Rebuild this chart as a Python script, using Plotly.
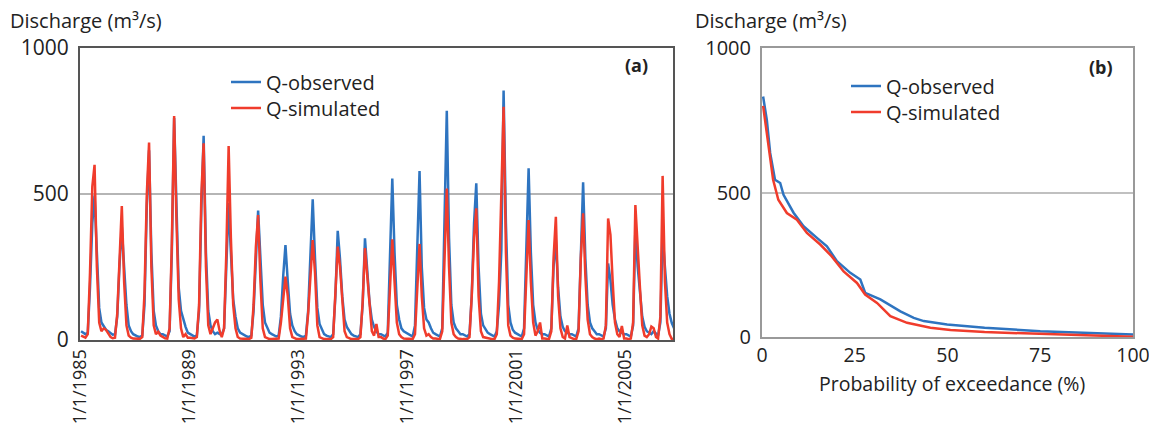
import pandas as pd
import plotly.graph_objects as go

# ---------------- data ----------------
# monthly discharge (m3/s), Jan 1985 .. Oct 2006
q_observed = [
    30, 25, 20, 25, 180, 400, 495, 300, 110, 60, 45, 35,      # 1985
    30, 22, 18, 20, 80, 260, 388, 250, 120, 50, 30, 20,       # 1986
    15, 12, 10, 15, 120, 460, 650, 300, 100, 50, 30, 20,      # 1987
    20, 15, 12, 30, 300, 760, 450, 180, 100, 70, 45, 25,      # 1988
    20, 15, 12, 15, 100, 450, 699, 300, 100, 50, 30, 20,      # 1989
    25, 20, 18, 40, 250, 469, 300, 140, 80, 40, 25, 20,       # 1990
    15, 12, 10, 15, 100, 300, 443, 280, 120, 60, 40, 25,      # 1991
    20, 15, 12, 15, 80, 220, 325, 200, 90, 50, 30, 20,        # 1992
    15, 12, 10, 15, 100, 330, 482, 280, 110, 55, 35, 20,      # 1993
    15, 12, 10, 20, 150, 374, 280, 150, 70, 45, 30, 20,       # 1994
    15, 12, 10, 20, 120, 348, 250, 130, 70, 45, 30, 20,       # 1995
    20, 15, 12, 25, 250, 553, 300, 120, 70, 40, 30, 25,       # 1996
    20, 15, 12, 50, 330, 579, 250, 110, 70, 60, 40, 25,       # 1997
    20, 15, 12, 40, 400, 785, 350, 120, 60, 40, 30, 20,       # 1998
    20, 15, 12, 20, 150, 400, 537, 250, 90, 50, 35, 25,       # 1999
    20, 15, 12, 30, 120, 308, 854, 400, 120, 60, 35, 25,      # 2000
    20, 15, 12, 40, 300, 588, 300, 120, 60, 35, 25, 20,       # 2001
    20, 15, 12, 40, 250, 342, 180, 80, 45, 30, 25, 20,        # 2002
    20, 15, 12, 40, 300, 540, 280, 120, 60, 40, 30, 20,       # 2003
    20, 15, 12, 40, 262, 205, 120, 70, 40, 30, 25, 20,        # 2004
    20, 15, 12, 50, 382, 250, 150, 80, 45, 30, 25, 20,        # 2005
    30, 20, 15, 60, 360, 250, 150, 90, 58, 40,                # 2006
]
q_simulated = [
    15, 10, 8, 20, 230, 525, 600, 250, 60, 30, 40, 35,        # 1985
    20, 10, 6, 8, 90, 300, 459, 200, 50, 15, 8, 5,            # 1986
    5, 5, 4, 10, 160, 500, 676, 250, 50, 20, 28, 15,          # 1987
    10, 6, 5, 40, 330, 767, 420, 140, 40, 10, 20, 8,          # 1988
    8, 5, 5, 10, 120, 500, 674, 250, 50, 20, 40, 60,          # 1989
    70, 30, 10, 40, 300, 664, 350, 120, 40, 10, 5, 5,         # 1990
    5, 4, 3, 8, 120, 320, 428, 200, 40, 10, 5, 3,             # 1991
    3, 3, 3, 5, 60, 150, 217, 150, 40, 10, 5, 3,              # 1992
    3, 3, 3, 5, 90, 240, 342, 230, 50, 10, 5, 3,              # 1993
    3, 3, 3, 10, 160, 320, 251, 120, 30, 10, 5, 3,            # 1994
    3, 3, 3, 10, 130, 315, 220, 100, 30, 15, 55, 10,          # 1995
    10, 5, 3, 15, 200, 345, 200, 60, 20, 10, 5, 5,            # 1996
    5, 3, 3, 20, 200, 329, 150, 40, 15, 20, 10, 5,            # 1997
    5, 3, 3, 30, 300, 519, 250, 60, 20, 10, 5, 3,             # 1998
    3, 3, 3, 10, 150, 350, 451, 150, 30, 10, 8, 5,            # 1999
    5, 3, 3, 20, 200, 508, 799, 300, 50, 15, 8, 5,            # 2000
    5, 3, 3, 20, 250, 411, 200, 60, 15, 30, 60, 5,            # 2001
    5, 3, 3, 30, 280, 422, 150, 40, 10, 5, 50, 10,            # 2002
    5, 3, 3, 30, 280, 434, 220, 70, 20, 10, 5, 3,             # 2003
    5, 3, 5, 50, 416, 360, 200, 60, 20, 10, 48, 5,            # 2004
    5, 3, 5, 60, 462, 300, 180, 50, 15, 10, 20, 46,           # 2005
    40, 10, 5, 80, 562, 200, 60, 20, 3, 3,                    # 2006
]
months = pd.date_range("1985-01-01", periods=len(q_observed), freq="MS") + pd.Timedelta(days=14)

date_tickvals = ["1985-01-01", "1989-01-01", "1993-01-01", "1997-01-01", "2001-01-01", "2005-01-01"]
date_ticktext = ["1/1/1985", "1/1/1989", "1/1/1993", "1/1/1997", "1/1/2001", "1/1/2005"]

# flow duration curve (probability of exceedance %, discharge)
fdc_obs_p = [0.3, 1.3, 2.2, 3.5, 4.9, 5.8, 8.5, 11.2, 14.8, 17.5, 20.2, 23.8, 26.5, 27.8,
             31.9, 37.3, 40.9, 43.6, 49.9, 60, 75, 90, 100]
fdc_obs_q = [832, 751, 637, 544, 533, 492, 430, 383, 343, 314, 262, 222, 199, 153,
             130, 89, 66, 55, 43, 32, 20, 14, 9]
fdc_sim_p = [0.3, 1.7, 3.0, 4.4, 6.7, 9.4, 12.1, 15.7, 18.8, 22.0, 25.6, 27.8, 31.0,
             34.6, 39.1, 45.4, 50.8, 60, 75, 90, 100]
fdc_sim_q = [800, 659, 544, 475, 429, 406, 360, 320, 279, 227, 187, 147, 118,
             72, 49, 32, 24, 17, 11, 6, 1]

# ---------------- figure ----------------
W, H = 1149, 426
BLUE = "#2e74c0"
RED = "#f03c2c"
FONT = "Open Sans"

def px(x):
    return x / W

def py(y):
    return 1 - y / H

fig = go.Figure()
fig.add_trace(go.Scatter(x=months, y=q_observed, mode="lines", name="Q-observed",
                         line=dict(color=BLUE, width=2.5), xaxis="x", yaxis="y", legend="legend"))
fig.add_trace(go.Scatter(x=months, y=q_simulated, mode="lines", name="Q-simulated",
                         line=dict(color=RED, width=2.5), xaxis="x", yaxis="y", legend="legend2"))
fig.add_trace(go.Scatter(x=fdc_obs_p, y=fdc_obs_q, mode="lines", name="Q-observed",
                         line=dict(color=BLUE, width=2.5), xaxis="x2", yaxis="y2", legend="legend3"))
fig.add_trace(go.Scatter(x=fdc_sim_p, y=fdc_sim_q, mode="lines", name="Q-simulated",
                         line=dict(color=RED, width=2.5), xaxis="x2", yaxis="y2", legend="legend4"))

axis_common = dict(zeroline=False, ticks="", automargin=False, mirror=True, showline=True)


def leg(x, y):
    return dict(x=px(x), y=py(y), xanchor="left", yanchor="middle", visible=True,
                bgcolor="rgba(0,0,0,0)", font=dict(size=20), itemwidth=30)


fig.update_layout(
    width=W, height=H,
    showlegend=True,
    margin=dict(l=0, r=0, t=0, b=0),
    paper_bgcolor="white", plot_bgcolor="white",
    font=dict(family=FONT, size=20, color="#222"),
    xaxis=dict(**axis_common, showgrid=False, domain=[px(80), px(673)], anchor="y",
               type="date", range=["1985-01-01", "2006-10-01"],
               tickvals=date_tickvals, ticktext=date_ticktext, tickangle=-90,
               linecolor="#555", linewidth=2, tickfont=dict(size=18)),
    yaxis=dict(**axis_common, domain=[py(340), py(48)], anchor="x", range=[0, 1000],
               tickvals=[0, 500, 1000], showgrid=True, gridcolor="#b5b5b5", gridwidth=1.5,
               linecolor="#555", linewidth=2, tickfont=dict(size=21), ticklabelstandoff=5),
    xaxis2=dict(**axis_common, showgrid=False, domain=[px(762), px(1133)], anchor="y2",
                range=[0, 100], tickvals=[0, 25, 50, 75, 100], ticklabeloverflow="allow",
                linecolor="#999", linewidth=2, tickfont=dict(size=19.5)),
    yaxis2=dict(**axis_common, domain=[py(337), py(48)], anchor="x2", range=[0, 1000],
                tickvals=[0, 500, 1000], showgrid=True, gridcolor="#c0c0c0", gridwidth=1.5,
                linecolor="#999", linewidth=2, tickfont=dict(size=20), ticklabelstandoff=5),
    legend=leg(226, 82),
    legend2=leg(226, 108),
    legend3=leg(846, 86),
    legend4=leg(846, 112),
    annotations=[
        dict(text="Discharge (m³/s)", x=px(8), y=py(20), xref="paper", yref="paper",
             xanchor="left", yanchor="middle", showarrow=False, font=dict(size=20)),
        dict(text="Discharge (m³/s)", x=px(693), y=py(20), xref="paper", yref="paper",
             xanchor="left", yanchor="middle", showarrow=False, font=dict(size=20)),
        dict(text="<b>(a)</b>", x=px(636), y=py(65), xref="paper", yref="paper",
             xanchor="center", yanchor="middle", showarrow=False, font=dict(size=18)),
        dict(text="<b>(b)</b>", x=px(1101), y=py(67), xref="paper", yref="paper",
             xanchor="center", yanchor="middle", showarrow=False, font=dict(size=18)),
        dict(text="Probability of exceedance (%)", x=px(952), y=py(383), xref="paper", yref="paper",
             xanchor="center", yanchor="middle", showarrow=False, font=dict(size=19.5)),
    ],
)

fig.write_html("out.html")
